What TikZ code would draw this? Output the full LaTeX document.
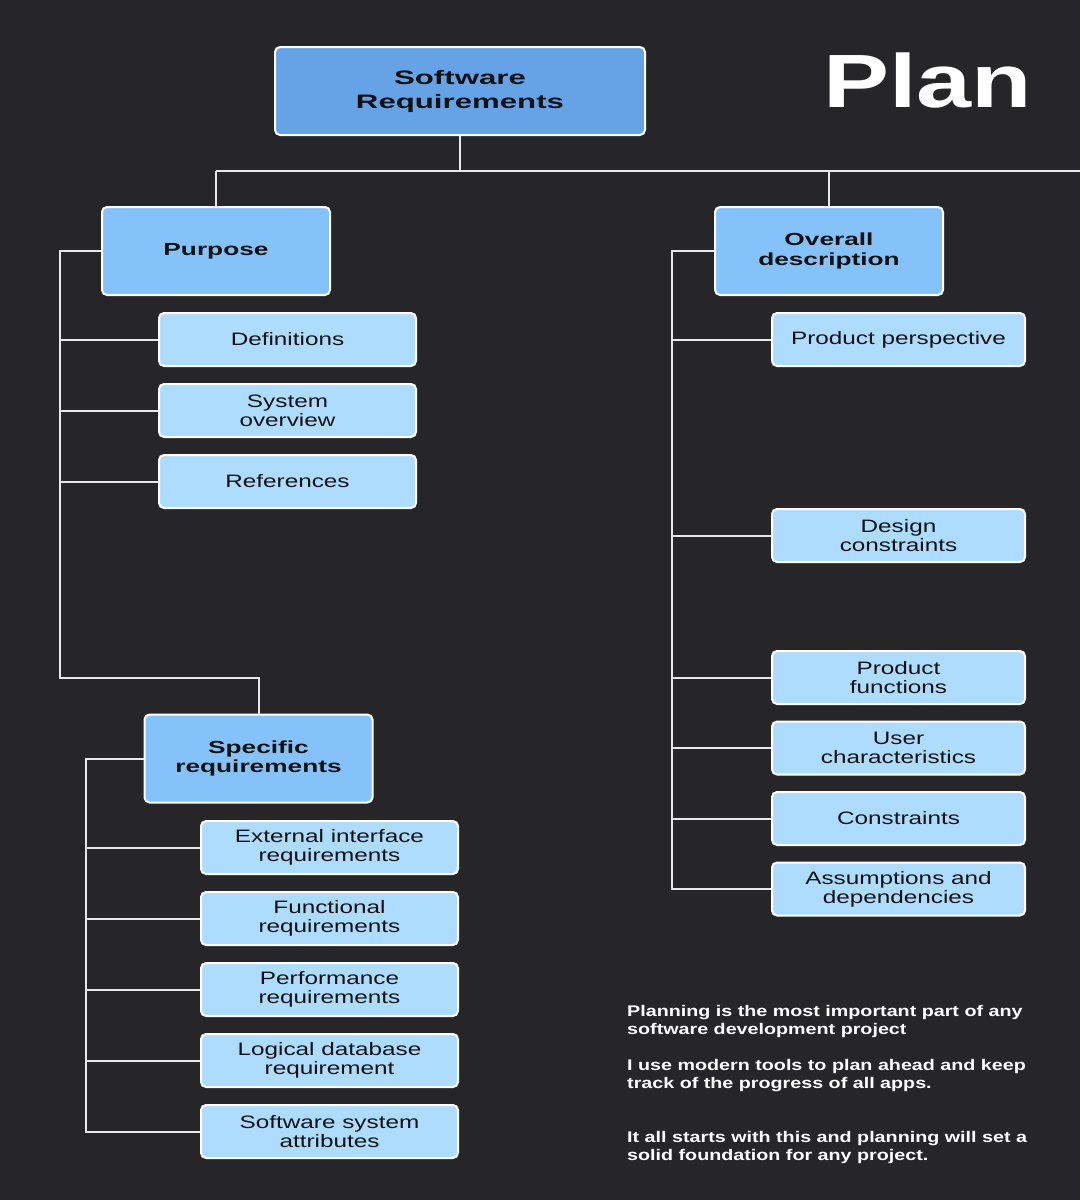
\documentclass[tikz,border=0pt]{standalone}
\usepackage{fontspec}
\setmainfont{Liberation Sans}[FakeStretch=1.35,BoldFeatures={FakeStretch=1.5}]
\newfontfamily\planfont{Liberation Sans}[FakeStretch=1.31]
\newfontfamily\rootfont{Liberation Sans}[FakeStretch=1.6]
\newfontfamily\notefont{Liberation Sans}[FakeStretch=1.28]
\definecolor{bg}{HTML}{262628}
\definecolor{rootfill}{HTML}{65A3E6}
\definecolor{headfill}{HTML}{85C2FA}
\definecolor{leaffill}{HTML}{AEDCFE}
\definecolor{txt}{HTML}{111111}
\definecolor{wire}{HTML}{E8E8E8}
\begin{document}
\begin{tikzpicture}[x=1pt,y=-1pt,
  box/.style={draw=white,line width=2pt,rounded corners=5pt,text=txt,align=center,inner sep=0pt},
  rootbox/.style={box,fill=rootfill,minimum width=370pt,minimum height=88pt,font=\rootfont\bfseries\fontsize{19.5}{24}\selectfont},
  headbox/.style={box,fill=headfill,minimum width=228pt,minimum height=88pt,font=\fontsize{17.5}{19.5}\bfseries},
  leafbox/.style={box,fill=leaffill,minimum width=257pt,minimum height=53pt,font=\fontsize{18}{19}\selectfont},
  rleafbox/.style={leafbox,minimum width=253pt},
  wireline/.style={draw=wire,line width=2pt}
]
\path[fill=bg] (0,0) rectangle (1080,1200);

% root
\node[rootbox] (root) at (460,91) {Software\\Requirements};
\node[anchor=base west,text=white,font=\planfont\bfseries\fontsize{75.5}{80}\selectfont,inner sep=0pt] (plan) at (823,107) {Plan};

% heads
\node[headbox] (purpose) at (216,251) {Purpose};
\node[headbox] (overall) at (829,251) {Overall\\description};
\node[headbox] (specific) at (258.5,758.5) {Specific\\requirements};

% purpose leaves
\node[leafbox] (def) at (287.5,339.5) {Definitions};
\node[leafbox] (sysov) at (287.5,410.5) {System\\overview};
\node[leafbox] (refs) at (287.5,481.5) {References};

% specific leaves
\node[leafbox] (ext) at (329.5,847.5) {External interface\\requirements};
\node[leafbox] (func) at (329.5,918.5) {Functional\\requirements};
\node[leafbox] (perf) at (329.5,989.5) {Performance\\requirements};
\node[leafbox] (logdb) at (329.5,1060.5) {Logical database\\requirement};
\node[leafbox] (ssa) at (329.5,1131.5) {Software system\\attributes};

% overall leaves
\node[rleafbox] (pp) at (898.5,339.5) {Product perspective};
\node[rleafbox] (dc) at (898.5,535.5) {Design\\constraints};
\node[rleafbox] (pf) at (898.5,677.5) {Product\\functions};
\node[rleafbox] (uc) at (898.5,748) {User\\characteristics};
\node[rleafbox] (cons) at (898.5,818.5) {Constraints};
\node[rleafbox] (ad) at (898.5,889) {Assumptions and\\dependencies};

% note
\node[anchor=north west,text=white,align=left,inner sep=0pt,font=\notefont\bfseries\fontsize{15.4}{18}\selectfont] (note) at (627,1005)
{Planning is the most important part of any\\software development project\\[18pt]I use modern tools to plan ahead and keep\\track of the progress of all apps.\\[36pt]It all starts with this and planning will set a\\solid foundation for any project.};

% connectors
\coordinate (jL) at (216,171);
\coordinate (jR) at (1080,171);
\draw[wireline] (root.south) -- (root.south |- jL);
\draw[wireline] (jL) -- (jR);
\draw[wireline] (jL) -- (purpose.north);
\draw[wireline] (overall.north |- jL) -- (overall.north);

\coordinate (pv) at (60,251);
\coordinate (pbot) at (60,678);
\draw[wireline] (purpose.west) -- (pv) -- (pbot) -- (pbot -| specific.north) -- (specific.north);
\foreach \n in {def,sysov,refs} \draw[wireline] (\n.west) -- (\n.west -| pv);

\coordinate (sv) at (86,758.5);
\draw[wireline] (specific.west) -- (sv) -- (sv |- ssa.west) -- (ssa.west);
\foreach \n in {ext,func,perf,logdb} \draw[wireline] (\n.west) -- (\n.west -| sv);

\coordinate (ov) at (672,251);
\draw[wireline] (overall.west) -- (ov) -- (ov |- ad.west) -- (ad.west);
\foreach \n in {pp,dc,pf,uc,cons} \draw[wireline] (\n.west) -- (\n.west -| ov);
\end{tikzpicture}
\end{document}
